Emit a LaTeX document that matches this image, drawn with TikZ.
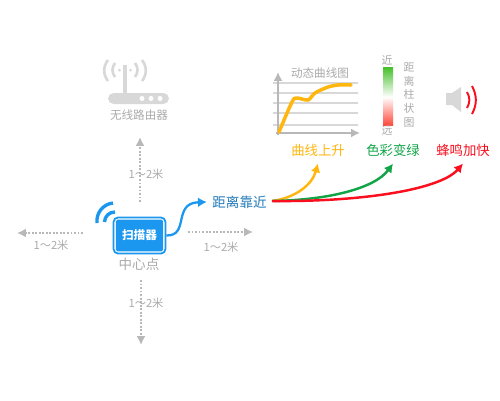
\documentclass[tikz,border=0pt]{standalone}
\usepackage{fontspec}
\setmainfont{Noto Sans CJK SC}
\usepackage{xcolor}
\usetikzlibrary{arrows.meta,positioning}
\definecolor{scanblue}{HTML}{1C97F0}
\definecolor{neartext}{HTML}{1F78B8}
\definecolor{lightgrey}{HTML}{B8B8B8}
\definecolor{textgrey}{HTML}{ABABAB}
\definecolor{gridgrey}{HTML}{D8D8D8}
\definecolor{iconyellow}{HTML}{FFB60F}
\definecolor{icongreen}{HTML}{12A548}
\definecolor{iconred}{HTML}{FA0F1E}
\definecolor{barg}{HTML}{45C02A}
\definecolor{barr}{HTML}{FF4A3C}
\tikzset{
  txt/.style={text=textgrey,inner sep=0pt,font=\fontsize{6.6}{8}\selectfont},
  rangetext/.style={txt,font=\fontsize{6.4}{8}\selectfont},
  resulttext/.style={inner sep=4pt,font=\fontsize{7.6}{9}\selectfont},
  reachline/.style={lightgrey,line width=1.2pt,dash pattern=on 1.1pt off 0.9pt,-{Latex[length=5pt,width=5pt]}},
  forkline/.style={line width=1.4pt,-{Latex[length=5pt,width=5.5pt]}},
  wifiwave/.style={scanblue,line width=1.9pt},
  routerwave/.style={gridgrey,line width=1.5pt},
  redwave/.style={iconred,line width=1.1pt},
}
\begin{document}
\begin{tikzpicture}[>=Latex,x=0.02cm,y=-0.02cm]
\useasboundingbox[fill=white] (0,0) rectangle (500,400);

% router
\draw[gridgrey,line width=2pt] (125,65) -- (125,94);
\draw[routerwave] (108,60) to[bend right=38] (108,81);
\draw[routerwave] (115,63) to[bend right=38] (115,77);
\draw[routerwave] (142,60) to[bend left=38] (142,81);
\draw[routerwave] (135,63) to[bend left=38] (135,77);
\fill[gridgrey] (119.5,70) circle (1.5) (130.5,70) circle (1.5);
\fill[gridgrey,rounded corners=3.2pt] (108,93) rectangle (169,104);
\foreach \px in {142,151,160}
  \fill[white] (\px,98.5) circle (2.5);
\node[txt] (routertext) at (139,115) {无线路由器};

% scanner
\node[draw=scanblue,line width=1pt,fill=white,rounded corners=2.5pt,minimum width=29.5pt,minimum height=20.5pt,inner sep=0pt] (scanbox) at (139.5,235.5) {};
\node[fill=scanblue,rounded corners=1pt,minimum width=27pt,minimum height=18pt,inner sep=0pt,text=white,font=\fontsize{6.6}{8}\bfseries\selectfont] (scanner) at (139.5,235.5) {扫描器};
\node[txt,font=\fontsize{7.7}{9}\selectfont] (center) at (139,264) {中心点};
\draw[wifiwave] (97,223) to[bend left=45] (113,203);
\draw[wifiwave] (104.5,222) to[bend left=45] (115,212);

% ranges
\coordinate (topstart) at (140,202);
\coordinate (topend) at (140,137);
\coordinate (leftstart) at (83,233);
\coordinate (leftend) at (17,233);
\coordinate (bottomstart) at (141,280);
\coordinate (bottomend) at (141,345);
\coordinate (rightstart) at (188,232);
\coordinate (rightend) at (253,232);
\draw[reachline] (topstart) -- (topend);
\draw[reachline] (leftstart) -- (leftend);
\draw[reachline] (bottomstart) -- (bottomend);
\draw[reachline] (rightstart) -- (rightend);
\node[rangetext] (toprange) at (146,174) {1～2米};
\node[rangetext] (leftrange) at (51,245) {1～2米};
\node[rangetext] (bottomrange) at (146,303) {1～2米};
\node[rangetext] (rightrange) at (221,247) {1～2米};

% near
\node[inner sep=3pt,text=neartext,font=\fontsize{7.7}{9}\selectfont] (near) at (239.5,202) {距离靠近};
\draw[scanblue,line width=1.3pt,-{Latex[length=5pt,width=5.5pt]}] (scanbox.east) .. controls (190,236) and (172,203) .. (near.west);

% results
\node[resulttext,text=iconyellow] (rise) at (318,150) {曲线上升};
\node[resulttext,text=icongreen] (colour) at (393,150) {色彩变绿};
\node[resulttext,text=iconred] (beep) at (463,150) {蜂鸣加快};
\coordinate (forkstart) at (272,201);
\draw[forkline,iconyellow] (forkstart) .. controls (295,198) and (312,185) .. (rise.south);
\draw[forkline,icongreen] (forkstart) .. controls (330,200) and (375,188) .. (colour.south);
\draw[forkline,iconred] (forkstart) .. controls (360,202) and (440,190) .. (beep.south);

% chart
\foreach \gy in {83,93,103,113,125}
  \draw[gridgrey,line width=0.7pt] (273,\gy) -- (358,\gy);
\draw[lightgrey,line width=1.1pt,-{Latex[length=5pt,width=5pt]}] (278,135) -- (278,72);
\draw[lightgrey,line width=1.1pt,-{Latex[length=5pt,width=5pt]}] (276,133) -- (360,133);
\draw[iconyellow,line width=2pt,line cap=round,line join=round] plot[smooth,tension=0.5] coordinates {(279,132) (292,102) (297,98) (308,100) (315,93) (328,87) (338,85) (351,85)};
\node[txt] (charttitle) at (320,73) {动态曲线图};

% bar
\fill[top color=barg,bottom color=white] (383,67) rectangle (393,97);
\fill[top color=white,bottom color=barr] (383,97) rectangle (393,125);
\node[txt,font=\fontsize{6.2}{8}\selectfont] (barnear) at (387,60.5) {近};
\node[txt,font=\fontsize{6.2}{8}\selectfont] (barfar) at (387,131) {远};
\node[txt,font=\fontsize{6.2}{7.9}\selectfont,align=center] (bartitle) at (409,95) {距\\离\\柱\\状\\图};

% speaker
\fill[gridgrey] (446,93) -- (452,93) -- (461,87) -- (461,112) -- (452,105) -- (446,105) -- cycle;
\draw[redwave] (467,92) to[bend left=30] (467,108);
\draw[redwave] (472,86) to[bend left=28] (472,114);
\end{tikzpicture}
\end{document}
